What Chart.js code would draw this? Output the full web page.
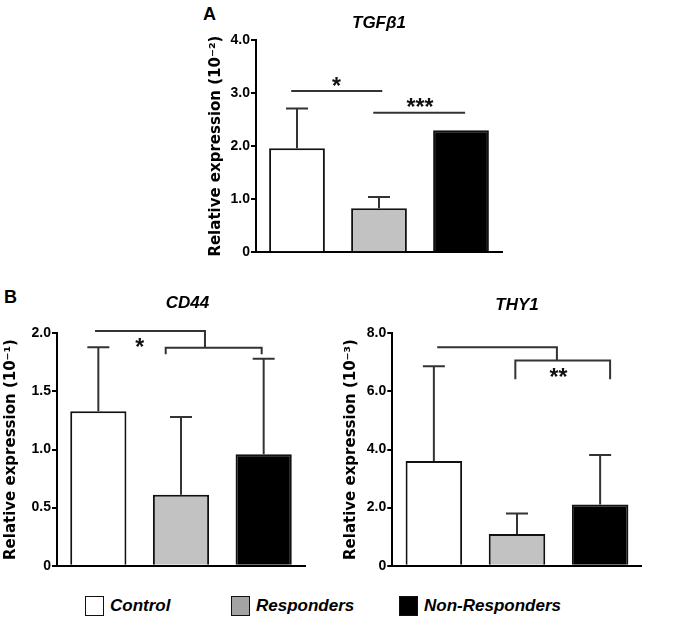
<!DOCTYPE html>
<html>
<head>
<meta charset="utf-8">
<script src="https://cdn.jsdelivr.net/npm/chart.js@4.4.1/dist/chart.umd.min.js"></script>
<style>
  body { margin: 0; background: #fff; overflow: hidden; font-family: "Liberation Sans", Arial, sans-serif; }
  .wrap { position: relative; width: 685px; height: 627px; }
  canvas { position: absolute; }
  .panel { position: absolute; font-weight: bold; font-size: 18px; line-height: 18px; color: #000; }
  .key { position: absolute; top: 595px; display: flex; align-items: center; font-weight: bold; font-style: italic; font-size: 17px; line-height: 21px; color: #000; }
  .key .box { width: 17px; height: 18px; border: 1.5px solid #111; margin-right: 6px; }
</style>
</head>
<body>
<div class="wrap">
  <div class="panel" style="left:203px; top:5px;">A</div>
  <div class="panel" style="left:4px; top:288px;">B</div>
  <canvas id="tgfb1Chart" width="330" height="270" style="left:190px; top:0px;"></canvas>
  <canvas id="cd44Chart" width="320" height="300" style="left:0px; top:280px;"></canvas>
  <canvas id="thy1Chart" width="349" height="300" style="left:336px; top:280px;"></canvas>
  <div class="key" style="left:85px;"><span class="box" style="background:#ffffff;"></span>Control</div>
  <div class="key" style="left:231px;"><span class="box" style="background:#a3a3a3;"></span>Responders</div>
  <div class="key" style="left:399px;"><span class="box" style="background:#000000;"></span>Non-Responders</div>
</div>
<script>
const groups = ["Control", "Responders", "Non-Responders"];
const barColors = ["#ffffff", "#c2c2c2", "#000000"];

const tgfb1Values = [1.96, 0.83, 2.3];
const tgfb1Errors = [0.75, 0.21, 0];
const tgfb1Ticks = [0, 1, 2, 3, 4];

const cd44Values = [1.33, 0.61, 0.96];
const cd44Errors = [0.55, 0.67, 0.82];
const cd44Ticks = [0, 0.5, 1, 1.5, 2];

const thy1Values = [3.6, 1.09, 2.11];
const thy1Errors = [3.27, 0.71, 1.7];
const thy1Ticks = [0, 2, 4, 6, 8];

// significance brackets, points given as [category position, axis value]
const tgfb1Lines = [
  [[-0.07, 3.04], [1.04, 3.04]],
  [[0.93, 2.63], [2.05, 2.63]],
];
const tgfb1Stars = [{ text: "*", at: [0.48, 3.21] }, { text: "***", at: [1.5, 2.82] }];

const cd44Lines = [
  [[-0.04, 2.02], [1.29, 2.02], [1.29, 1.876]],
  [[0.815, 1.82], [0.815, 1.876], [1.976, 1.876], [1.976, 1.82]],
];
const cd44Stars = [{ text: "*", at: [0.5, 1.917] }];

const thy1Lines = [
  [[0.04, 7.52], [1.48, 7.52], [1.48, 7.06]],
  [[0.98, 6.42], [0.98, 7.06], [2.12, 7.06], [2.12, 6.42]],
];
const thy1Stars = [{ text: "**", at: [1.5, 6.64] }];

Chart.defaults.font.family = '"Liberation Sans", Arial, sans-serif';

// error bars, brackets and stars
const marks = {
  id: "marks",
  afterLayout(chart, args, opts) {
    if (opts.titleShift && chart.titleBlock) {
      chart.titleBlock.left += opts.titleShift;
      chart.titleBlock.right += opts.titleShift;
    }
  },
  afterDatasetsDraw(chart, args, opts) {
    const { ctx } = chart;
    const x = chart.scales.x;
    const y = chart.scales.y;
    const x0 = x.getPixelForValue(0);
    const step = x.getPixelForValue(1) - x0;
    const px = (p) => x0 + p * step;
    const meta = chart.getDatasetMeta(0);
    const values = chart.data.datasets[0].data;

    ctx.save();
    ctx.strokeStyle = "#333";
    ctx.lineWidth = 2;
    opts.errors.forEach((e, i) => {
      if (!e) return;
      const bar = meta.data[i];
      const top = y.getPixelForValue(values[i] + e);
      ctx.beginPath();
      ctx.moveTo(bar.x, bar.y);
      ctx.lineTo(bar.x, top);
      ctx.moveTo(bar.x - 11, top);
      ctx.lineTo(bar.x + 11, top);
      ctx.stroke();
    });

    opts.lines.forEach((line) => {
      ctx.beginPath();
      line.forEach(([p, v], k) => {
        const X = px(p);
        const Y = y.getPixelForValue(v);
        if (k) ctx.lineTo(X, Y);
        else ctx.moveTo(X, Y);
      });
      ctx.stroke();
    });

    ctx.fillStyle = "#111";
    ctx.font = 'bold 23px "Liberation Sans", Arial, sans-serif';
    ctx.textAlign = "center";
    ctx.textBaseline = "alphabetic";
    opts.stars.forEach((s) => {
      ctx.fillText(s.text, px(s.at[0]), y.getPixelForValue(s.at[1]) + 12.5);
    });
    ctx.restore();
  },
};

function drawChart(id, cfg) {
  const ctx = document.getElementById(id).getContext("2d");
  return new Chart(ctx, {
    type: "bar",
    data: {
      labels: groups,
      datasets: [
        {
          data: cfg.values,
          backgroundColor: barColors,
          borderColor: "#111",
          borderWidth: 2,
          borderSkipped: "start",
          barPercentage: 0.68,
          categoryPercentage: 1,
        },
      ],
    },
    plugins: [marks],
    options: {
      responsive: false,
      animation: false,
      events: [],
      layout: { padding: { left: 0, top: 0, right: cfg.padRight, bottom: cfg.padBottom } },
      plugins: {
        legend: { display: false },
        tooltip: { enabled: false },
        title: {
          display: true,
          text: cfg.title,
          fullSize: false,
          color: "#000",
          font: { size: 17, weight: "bold", style: "italic" },
          padding: { top: cfg.titleTop, bottom: cfg.titleBottom },
        },
        marks: {
          errors: cfg.errors,
          lines: cfg.lines,
          stars: cfg.stars,
          titleShift: cfg.titleShift || 0,
        },
      },
      scales: {
        x: {
          grid: { display: false },
          ticks: { display: false },
          border: { display: true, color: "#000", width: 2 },
          afterFit: (s) => { s.height = 0; },
        },
        y: {
          min: 0,
          max: cfg.ticks[cfg.ticks.length - 1],
          afterBuildTicks: (s) => { s.ticks = cfg.ticks.map((v) => ({ value: v })); },
          ticks: {
            color: "#000",
            padding: 1,
            font: { size: 14, weight: "bold" },
            callback: (v) => (v === 0 ? "0" : v.toFixed(1)),
          },
          grid: { drawOnChartArea: false, drawTicks: true, tickLength: 5, color: "#000", lineWidth: 2 },
          border: { display: true, color: "#000", width: 2 },
          title: {
            display: true,
            text: cfg.yLabel,
            color: "#000",
            font: { family: '"DejaVu Sans", sans-serif', size: 15, weight: "bold" },
            padding: { top: cfg.yTitlePad, bottom: 0 },
          },
          afterFit: (s) => { s.width = cfg.yWidth; },
        },
      },
    },
  });
}

drawChart("tgfb1Chart", {
  title: "TGFβ1",
  yLabel: "Relative expression (10⁻²)",
  values: tgfb1Values,
  errors: tgfb1Errors,
  ticks: tgfb1Ticks,
  lines: tgfb1Lines,
  stars: tgfb1Stars,
  yWidth: 66,
  yTitlePad: 17,
  padRight: 18,
  padBottom: 17.7,
  titleTop: 13.1,
  titleBottom: 6.5,
});

drawChart("cd44Chart", {
  title: "CD44",
  yLabel: "Relative expression (10⁻¹)",
  values: cd44Values,
  errors: cd44Errors,
  ticks: cd44Ticks,
  lines: cd44Lines,
  stars: cd44Stars,
  yWidth: 57,
  yTitlePad: 1.8,
  padRight: 15,
  padBottom: 14.3,
  titleTop: 13.1,
  titleBottom: 19.8,
  titleShift: 6.5,
});

drawChart("thy1Chart", {
  title: "THY1",
  yLabel: "Relative expression (10⁻³)",
  values: thy1Values,
  errors: thy1Errors,
  ticks: thy1Ticks,
  lines: thy1Lines,
  stars: thy1Stars,
  yWidth: 56.3,
  yTitlePad: 5.8,
  padRight: 43.3,
  padBottom: 14.3,
  titleTop: 14.8,
  titleBottom: 18.1,
});
</script>
</body>
</html>
